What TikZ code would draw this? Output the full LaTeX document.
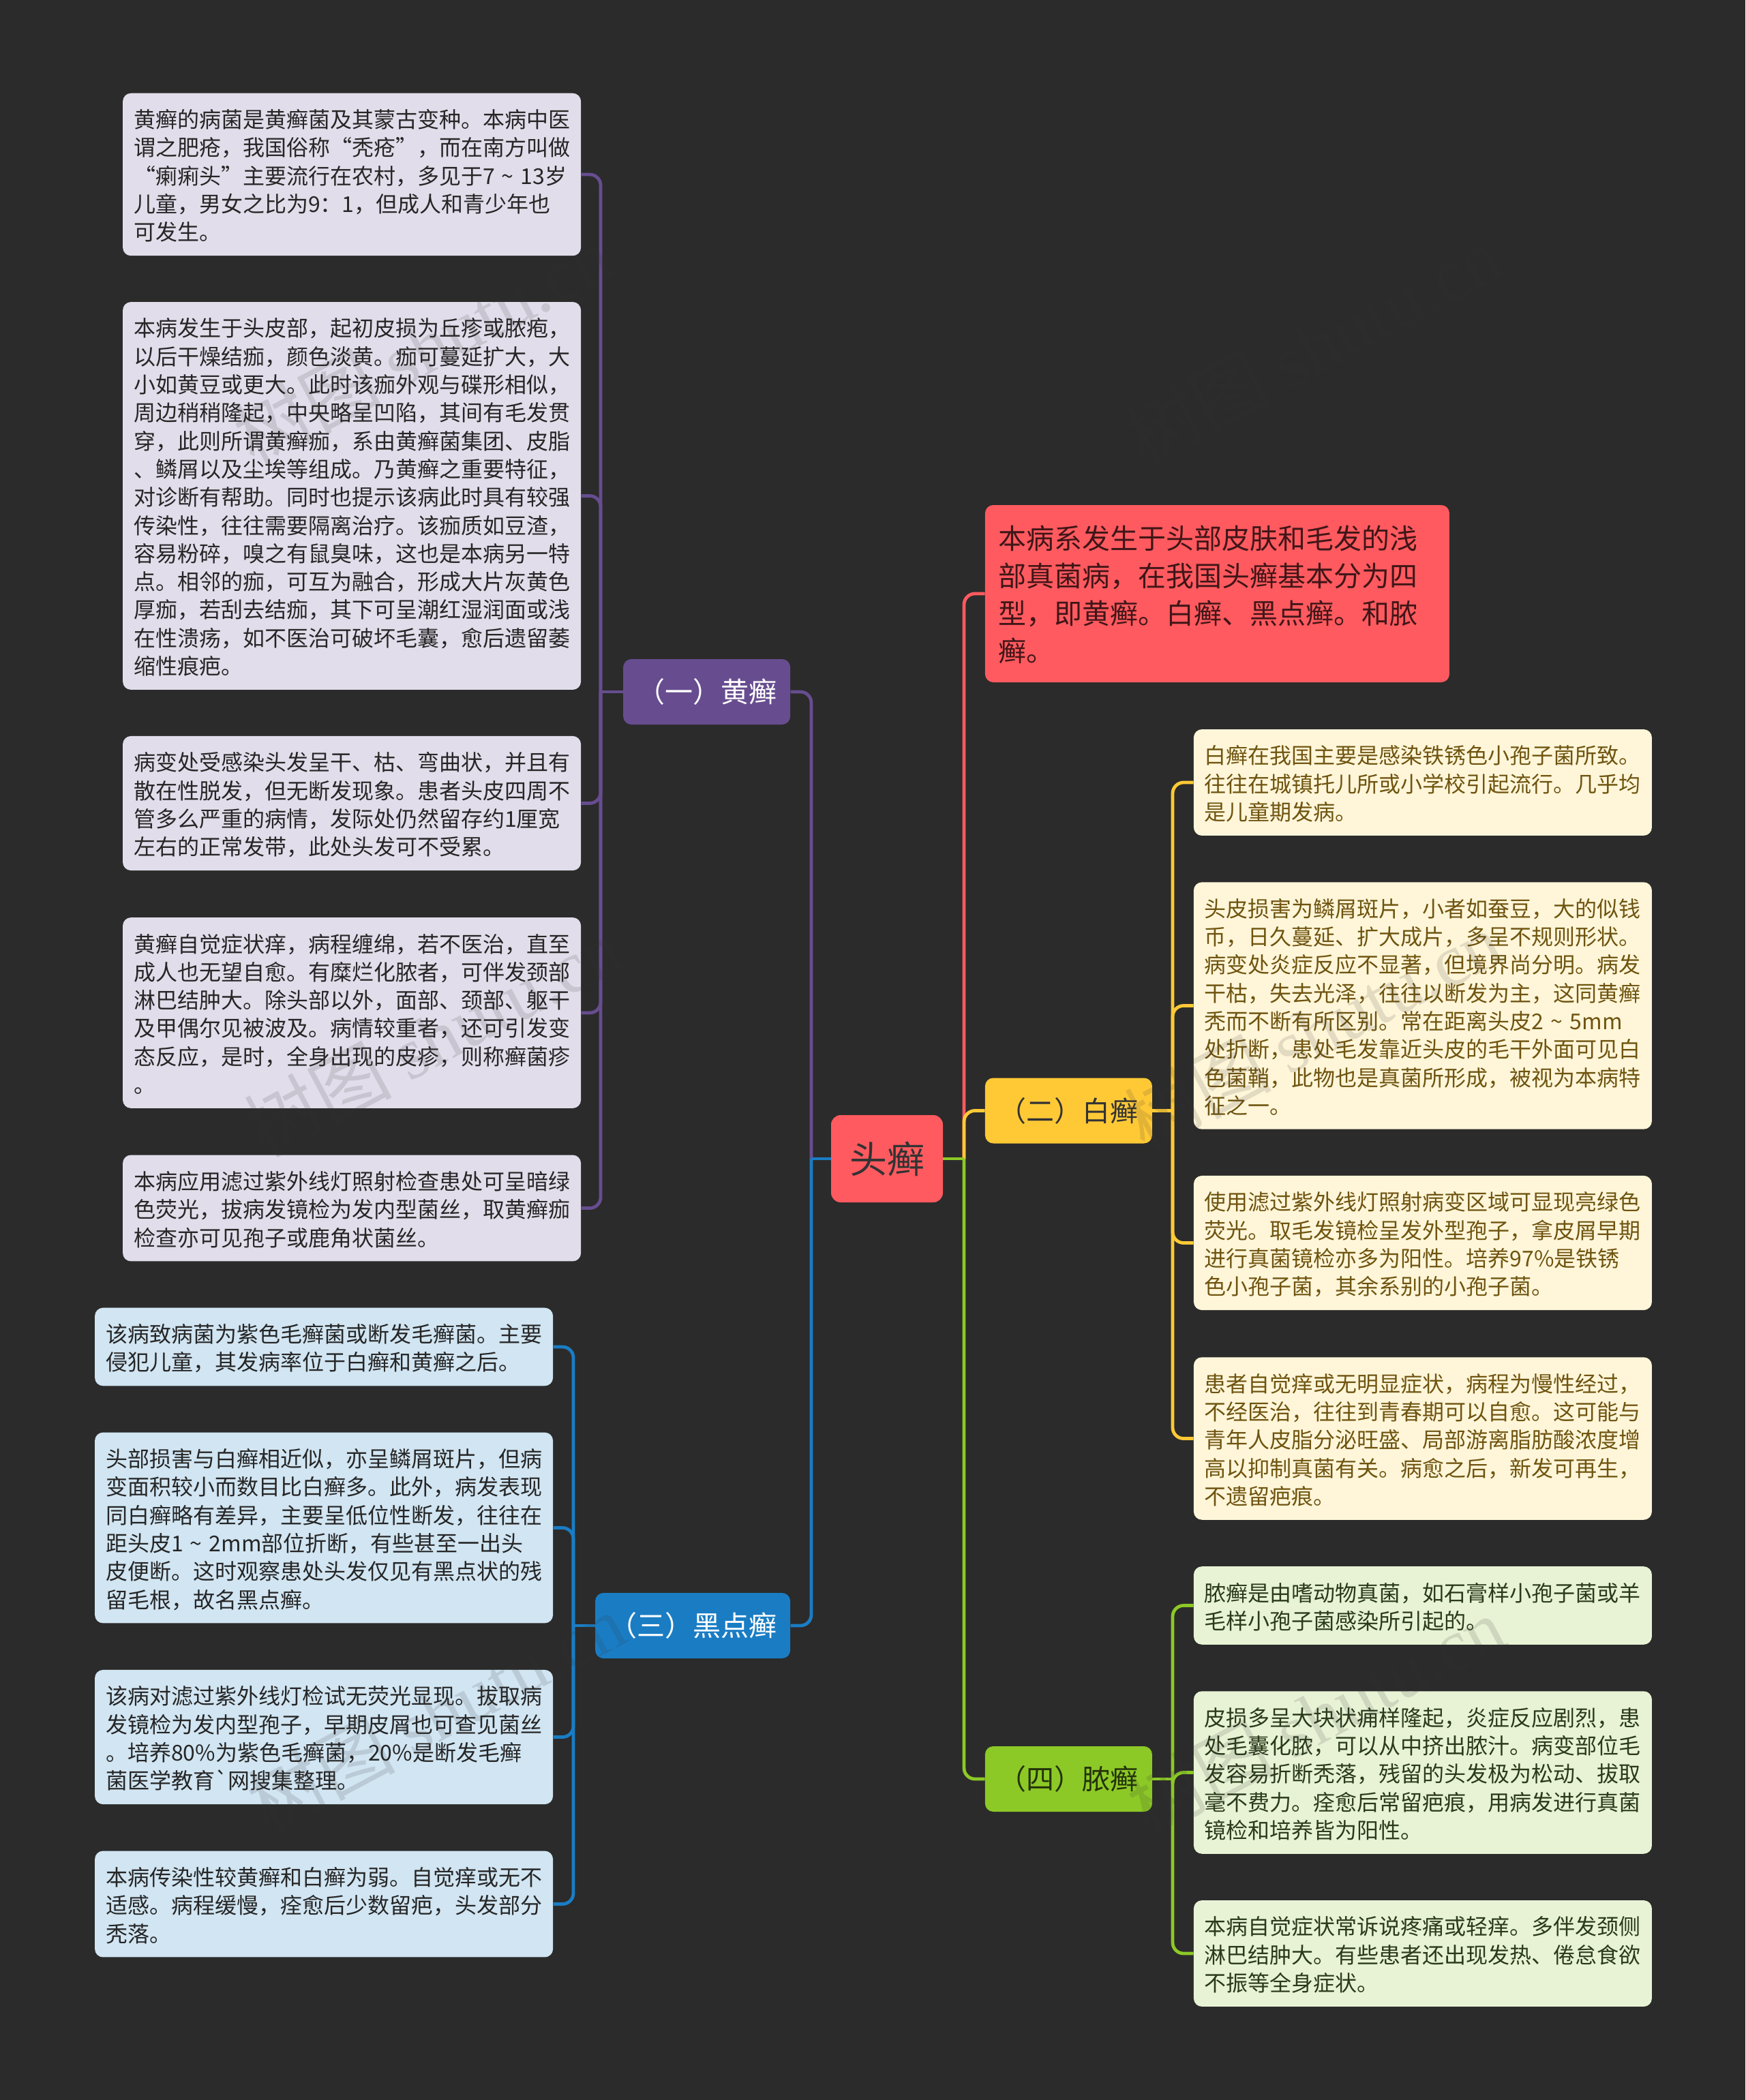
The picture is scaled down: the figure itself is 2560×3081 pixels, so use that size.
\documentclass[tikz,border=0pt]{standalone}
\usepackage{fontspec}
\usepackage{tikz}
\usetikzlibrary{positioning}

\newfontfamily\treefont{Noto Sans CJK SC}
\newfontfamily\markfont{Liberation Serif}

\definecolor{bgdark}{HTML}{2B2B2B}
\definecolor{rootred}{HTML}{FF5A5F}
\definecolor{hgdark}{HTML}{674D90}
\definecolor{hglight}{HTML}{E1DDEA}
\definecolor{hidark}{HTML}{1A7DC4}
\definecolor{hilight}{HTML}{D1E5F2}
\definecolor{badark}{HTML}{FFC936}
\definecolor{balight}{HTML}{FFF6D9}
\definecolor{batext}{HTML}{6F5410}
\definecolor{nodark}{HTML}{8CC926}
\definecolor{nolight}{HTML}{E8F3D6}
\definecolor{notext}{HTML}{2A3A1A}

\newcommand{\tildemark}{\makebox[19pt]{\symbol{126}}}

\tikzset{
    leafbox/.style={rectangle, rounded corners=6pt, inner sep=8pt, text width=320pt, align=left,
        font=\treefont\fontsize{16}{20.65}\selectfont, text=black!85,
        execute at begin node={\rule{0pt}{17.45pt}}, execute at end node={\rule[-3.2pt]{0pt}{3.2pt}}},
    branchbox/.style={rectangle, rounded corners=6pt, inner xsep=10pt, inner ysep=0pt, minimum height=48pt,
        font=\treefont\fontsize{20.5}{24}\selectfont},
    introbox/.style={rectangle, rounded corners=6pt, inner sep=10pt, text width=320.5pt, align=left,
        font=\treefont\fontsize{20.5}{27.5}\selectfont,
        execute at begin node={\rule{0pt}{22.25pt}}, execute at end node={\rule[-5.25pt]{0pt}{5.25pt}}},
    spine/.style={line width=2.4pt, rounded corners=8pt},
    markbox/.style={rotate=28, opacity=.14, text=black!80, font=\fontsize{54}{60}\selectfont}
}

\begin{document}
\begin{tikzpicture}[x=0.5pt, y=-0.5pt]
            \useasboundingbox (0, 0) rectangle (2560, 3081);
            \fill [bgdark] (0, 0) rectangle (2560, 3081);

            \node [rectangle, fill=rootred, rounded corners=7pt, minimum width=82pt, minimum height=64pt, inner sep=0pt,
                text=black!80, font=\treefont\fontsize{27.5}{30}\selectfont] (R) at (1301, 1700) {头癣};
            \coordinate (Rl) at (1190, 1700);
            \coordinate (Rr) at (1414, 1700);

            % branches on the left
            \node [branchbox, fill=hgdark, text=white, anchor=east] (Hg) at (1159.5, 1015) {（一）黄癣};
            \node [branchbox, fill=hidark, text=white, anchor=east] (Hi) at (1159.5, 2385) {（三）黑点癣};
            \coordinate (Hgs) at (881, 1015);
            \coordinate (His) at (841, 2385);

            % branches on the right
            \node [introbox, fill=rootred, text=black!75!rootred, anchor=west] (In) at (1444.5, 871)
                {本病系发生于头部皮肤和毛发的浅\\部真菌病，在我国头癣基本分为四\\型，即黄癣。白癣、黑点癣。和脓\\癣。};
            \node [branchbox, fill=badark, text=black!80, anchor=west] (Ba) at (1444.5, 1629.5) {（二）白癣};
            \node [branchbox, fill=nodark, text=black!75!nodark, anchor=west] (No) at (1444.5, 2610) {（四）脓癣};
            \coordinate (Bas) at (1720, 1629.5);
            \coordinate (Nos) at (1720, 2610);

            \node [leafbox, fill=hglight, anchor=east] (H1) at (852.5, 256)
                {黄癣的病菌是黄癣菌及其蒙古变种。本病中医\\谓之肥疮，我国俗称“秃疮”，而在南方叫做\\“瘌痢头”主要流行在农村，多见于7\tildemark13岁\\儿童，男女之比为9：1，但成人和青少年也\\可发生。};
            \node [leafbox, fill=hglight, anchor=east] (H2) at (852.5, 727.5)
                {本病发生于头皮部，起初皮损为丘疹或脓疱，\\以后干燥结痂，颜色淡黄。痂可蔓延扩大，大\\小如黄豆或更大。此时该痂外观与碟形相似，\\周边稍稍隆起，中央略呈凹陷，其间有毛发贯\\穿，此则所谓黄癣痂，系由黄癣菌集团、皮脂\\、鳞屑以及尘埃等组成。乃黄癣之重要特征，\\对诊断有帮助。同时也提示该病此时具有较强\\传染性，往往需要隔离治疗。该痂质如豆渣，\\容易粉碎，嗅之有鼠臭味，这也是本病另一特\\点。相邻的痂，可互为融合，形成大片灰黄色\\厚痂，若刮去结痂，其下可呈潮红湿润面或浅\\在性溃疡，如不医治可破坏毛囊，愈后遗留萎\\缩性痕疤。};
            \node [leafbox, fill=hglight, anchor=east] (H3) at (852.5, 1178.5)
                {病变处受感染头发呈干、枯、弯曲状，并且有\\散在性脱发，但无断发现象。患者头皮四周不\\管多么严重的病情，发际处仍然留存约1厘宽\\左右的正常发带，此处头发可不受累。};
            \node [leafbox, fill=hglight, anchor=east] (H4) at (852.5, 1486)
                {黄癣自觉症状痒，病程缠绵，若不医治，直至\\成人也无望自愈。有糜烂化脓者，可伴发颈部\\淋巴结肿大。除头部以外，面部、颈部、躯干\\及甲偶尔见被波及。病情较重者，还可引发变\\态反应，是时，全身出现的皮疹，则称癣菌疹\\。};
            \node [leafbox, fill=hglight, anchor=east] (H5) at (852.5, 1772.5)
                {本病应用滤过紫外线灯照射检查患处可呈暗绿\\色荧光，拔病发镜检为发内型菌丝，取黄癣痂\\检查亦可见孢子或鹿角状菌丝。};

            \node [leafbox, fill=hilight, anchor=east] (I1) at (811.5, 1976)
                {该病致病菌为紫色毛癣菌或断发毛癣菌。主要\\侵犯儿童，其发病率位于白癣和黄癣之后。};
            \node [leafbox, fill=hilight, anchor=east] (I2) at (811.5, 2241.5)
                {头部损害与白癣相近似，亦呈鳞屑斑片，但病\\变面积较小而数目比白癣多。此外，病发表现\\同白癣略有差异，主要呈低位性断发，往往在\\距头皮1\tildemark2mm部位折断，有些甚至一出头\\皮便断。这时观察患处头发仅见有黑点状的残\\留毛根，故名黑点癣。};
            \node [leafbox, fill=hilight, anchor=east] (I3) at (811.5, 2548.5)
                {该病对滤过紫外线灯检试无荧光显现。拔取病\\发镜检为发内型孢子，早期皮屑也可查见菌丝\\。培养80\%为紫色毛癣菌，20\%是断发毛癣\\菌医学教育`网搜集整理。};
            \node [leafbox, fill=hilight, anchor=east] (I4) at (811.5, 2793.5)
                {本病传染性较黄癣和白癣为弱。自觉痒或无不\\适感。病程缓慢，痊愈后少数留疤，头发部分\\秃落。};

            \node [leafbox, fill=balight, text=batext, anchor=west] (B1) at (1750.5, 1148)
                {白癣在我国主要是感染铁锈色小孢子菌所致。\\往往在城镇托儿所或小学校引起流行。几乎均\\是儿童期发病。};
            \node [leafbox, fill=balight, text=batext, anchor=west] (B2) at (1750.5, 1475.5)
                {头皮损害为鳞屑斑片，小者如蚕豆，大的似钱\\币，日久蔓延、扩大成片，多呈不规则形状。\\病变处炎症反应不显著，但境界尚分明。病发\\干枯，失去光泽，往往以断发为主，这同黄癣\\秃而不断有所区别。常在距离头皮2\tildemark5mm\\处折断，患处毛发靠近头皮的毛干外面可见白\\色菌鞘，此物也是真菌所形成，被视为本病特\\征之一。};
            \node [leafbox, fill=balight, text=batext, anchor=west] (B3) at (1750.5, 1823.5)
                {使用滤过紫外线灯照射病变区域可显现亮绿色\\荧光。取毛发镜检呈发外型孢子，拿皮屑早期\\进行真菌镜检亦多为阳性。培养97\%是铁锈\\色小孢子菌，其余系别的小孢子菌。};
            \node [leafbox, fill=balight, text=batext, anchor=west] (B4) at (1750.5, 2110.5)
                {患者自觉痒或无明显症状，病程为慢性经过，\\不经医治，往往到青春期可以自愈。这可能与\\青年人皮脂分泌旺盛、局部游离脂肪酸浓度增\\高以抑制真菌有关。病愈之后，新发可再生，\\不遗留疤痕。};

            \node [leafbox, fill=nolight, text=notext, anchor=west] (N1) at (1750.5, 2355.5)
                {脓癣是由嗜动物真菌，如石膏样小孢子菌或羊\\毛样小孢子菌感染所引起的。};
            \node [leafbox, fill=nolight, text=notext, anchor=west] (N2) at (1750.5, 2600.5)
                {皮损多呈大块状痈样隆起，炎症反应剧烈，患\\处毛囊化脓，可以从中挤出脓汁。病变部位毛\\发容易折断秃落，残留的头发极为松动、拔取\\毫不费力。痊愈后常留疤痕，用病发进行真菌\\镜检和培养皆为阳性。};
            \node [leafbox, fill=nolight, text=notext, anchor=west] (N3) at (1750.5, 2866)
                {本病自觉症状常诉说疼痛或轻痒。多伴发颈侧\\淋巴结肿大。有些患者还出现发热、倦怠食欲\\不振等全身症状。};

            \draw [spine, hgdark] (R.west) -- (Rl);
            \draw [spine, hgdark] (Rl) |- (Hg.east);
            \draw [spine, hidark] (R.west) -- (Rl);
            \draw [spine, hidark] (Rl) |- (Hi.east);

            \draw [spine, rootred] (Rr) |- (In.west);
            \draw [spine, badark] (Rr) |- (Ba.west);
            \draw [spine, nodark] (R.east) -- (Rr);
            \draw [spine, nodark] (Rr) |- (No.west);

            \draw [spine, hgdark] (Hg.west) -- (Hgs);
            \draw [spine, hgdark] (Hgs) |- (H1.east);
            \draw [spine, hgdark] (Hgs) |- (H2.east);
            \draw [spine, hgdark] (Hgs) |- (H3.east);
            \draw [spine, hgdark] (Hgs) |- (H4.east);
            \draw [spine, hgdark] (Hgs) |- (H5.east);

            \draw [spine, hidark] (Hi.west) -- (His);
            \draw [spine, hidark] (His) |- (I1.east);
            \draw [spine, hidark] (His) |- (I2.east);
            \draw [spine, hidark] (His) |- (I3.east);
            \draw [spine, hidark] (His) |- (I4.east);

            \draw [spine, badark] (Ba.east) -- (Bas);
            \draw [spine, badark] (Bas) |- (B1.west);
            \draw [spine, badark] (Bas) |- (B2.west);
            \draw [spine, badark] (Bas) |- (B3.west);
            \draw [spine, badark] (Bas) |- (B4.west);

            \draw [spine, nodark] (No.east) -- (Nos);
            \draw [spine, nodark] (Nos) |- (N1.west);
            \draw [spine, nodark] (Nos) |- (N2.west);
            \draw [spine, nodark] (Nos) |- (N3.west);

            % watermark over everything
            \node [markbox] (M1) at (620, 507) {\treefont 树图 \markfont shutu.cn};
            \node [markbox] (M2) at (1925, 507) {\treefont 树图 \markfont shutu.cn};
            \node [markbox] (M3) at (635, 1522) {\treefont 树图 \markfont shutu.cn};
            \node [markbox] (M4) at (1925, 1512) {\treefont 树图 \markfont shutu.cn};
            \node [markbox] (M5) at (640, 2512) {\treefont 树图 \markfont shutu.cn};
            \node [markbox] (M6) at (1930, 2517) {\treefont 树图 \markfont shutu.cn};
        \end{tikzpicture}
\end{document}
